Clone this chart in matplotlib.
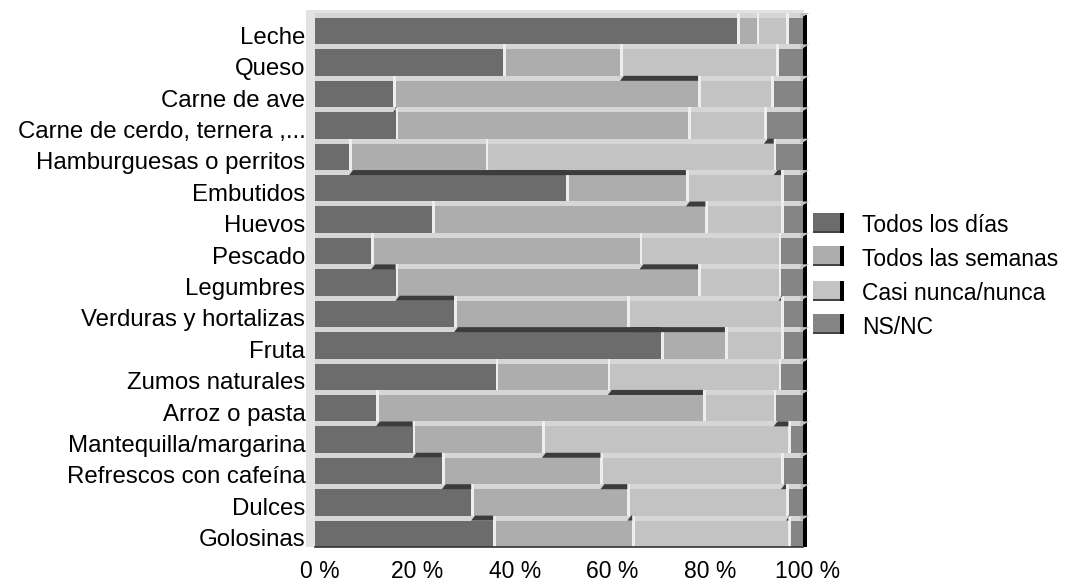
import numpy as np
import matplotlib
matplotlib.use("Agg")
import matplotlib.pyplot as plt
from matplotlib.patches import Polygon, Rectangle
from matplotlib.transforms import ScaledTranslation

plt.rcParams['font.family'] = ['Liberation Sans', 'DejaVu Sans']

categories = ["Leche", "Queso", "Carne de ave", "Carne de cerdo, ternera ,...",
              "Hamburguesas o perritos", "Embutidos", "Huevos", "Pescado",
              "Legumbres", "Verduras y hortalizas", "Fruta", "Zumos naturales",
              "Arroz o pasta", "Mantequilla/margarina", "Refrescos con cafeína",
              "Dulces", "Golosinas"]
series_names = ["Todos los días", "Todos las semanas", "Casi nunca/nunca", "NS/NC"]
todos_dias = [86.5, 38.5, 16.0, 16.5, 7.0, 51.5, 24.0, 11.5, 16.5, 28.5, 71.0, 37.0, 12.5, 20.0, 26.0, 32.0, 36.5]
todos_semanas = [4.0, 24.0, 62.5, 60.0, 28.0, 24.5, 56.0, 55.0, 62.0, 35.5, 13.0, 23.0, 67.0, 26.5, 32.5, 32.0, 28.5]
casi_nunca = [6.0, 32.0, 15.0, 15.5, 59.0, 19.5, 15.5, 28.5, 16.5, 31.5, 11.5, 35.0, 14.5, 50.5, 37.0, 32.5, 32.0]
ns_nc = [3.5, 5.5, 6.5, 8.0, 6.0, 4.5, 4.5, 5.0, 5.0, 4.5, 4.5, 5.0, 6.0, 3.0, 4.5, 3.5, 3.0]
x_ticks = [0, 20, 40, 60, 80, 100]
x_tick_labels = ["0 %", "20 %", "40 %", "60 %", "80 %", "100 %"]

face_colors = ["#6c6c6c", "#adadad", "#c3c3c3", "#858585"]
top_color = "#d6d6d6"
edge_light = "#eeeeee"
shadow_color = "#3c3c3c"

W, H = 1073, 585
fig = plt.figure(figsize=(W / 100, H / 100), dpi=100)
ax = fig.add_axes([315 / W, (H - 547) / H, 488 / W, 534 / H])

n = len(categories)
series = np.array([todos_dias, todos_semanas, casi_nunca, ns_nc])
cum = np.cumsum(series, axis=0)
lefts = cum - series
FACE = 0.84
base = np.array([n - 1 - i for i in range(n)], dtype=float)

# back wall
ax.add_patch(Rectangle((-1.8, 0), 1.8, n + 0.05, color="#e2e2e2", lw=0, clip_on=False, zorder=0))
ax.add_patch(Rectangle((-1.8, n - 0.02), 102, 0.1, color="#e2e2e2", lw=0, clip_on=False, zorder=0))

# front faces
for s in range(4):
    ax.barh(base, series[s], left=lefts[s], height=FACE, align='edge',
            color=face_colors[s], lw=0, zorder=2)

# top faces of each row
ax.barh(base + FACE, cum[-1], left=0, height=1 - FACE, align='edge',
        color=top_color, lw=0, zorder=2)

# right side band
ax.add_patch(Rectangle((100, 0), 0.9, n - 0.05, color="black", lw=0, clip_on=False, zorder=3))
for i in range(n):
    y0 = base[i] + FACE
    ax.add_patch(Polygon([(99.5, y0), (101.3, y0 + (1 - FACE)), (99.5, y0 + (1 - FACE))],
                         closed=True, color="#bdbdbd", lw=0, clip_on=False, zorder=4))

# light left edges of segments
for i in range(n):
    for s in range(1, 4):
        x = lefts[s][i]
        ax.add_patch(Rectangle((x, base[i]), 0.55, 1.0, color=edge_light, lw=0, zorder=3))

# shadows on top faces where the lower row's boundary lies further right
for i in range(n - 1):
    lo = i + 1
    y_b = base[lo] + FACE
    y_t = base[lo] + 1.0
    for k in range(3):
        a = cum[k][i]
        b = cum[k][lo]
        if b > a + 0.3:
            ax.add_patch(Polygon([(a, y_b), (a + 0.8, y_t), (b, y_t), (b, y_b)],
                                 closed=True, color=shadow_color, lw=0, zorder=3))

# bottom edge
ax.plot([0, 100], [0, 0], color="#333333", lw=1.2, zorder=4, clip_on=False)

ax.set_xlim(0, 100)
ax.set_ylim(0, n)
for sp in ax.spines.values():
    sp.set_visible(False)

ax.set_yticks(base + FACE / 2)
ax.set_yticklabels(categories, fontsize=17.3)
ax.tick_params(axis='y', length=0, pad=7)
for lbl in ax.get_yticklabels():
    lbl.set_transform(lbl.get_transform() + ScaledTranslation(0, -4 / 100, fig.dpi_scale_trans))

ax.set_xticks(x_ticks)
ax.set_xticklabels(x_tick_labels, fontsize=16.5)
ax.tick_params(axis='x', length=0, pad=9)
for lbl in ax.get_xticklabels():
    lbl.set_transform(lbl.get_transform() + ScaledTranslation(4.5 / 100, 0, fig.dpi_scale_trans))

# legend with boxed swatches
lax = fig.add_axes([0, 0, 1, 1], facecolor="none")
lax.set_xlim(0, W)
lax.set_ylim(H, 0)
lax.axis("off")
centers = [223, 256, 291, 324]
for name, col, yc in zip(series_names, face_colors, centers):
    lax.add_patch(Rectangle((813, yc - 10), 27, 20, color=col, lw=0))
    lax.add_patch(Rectangle((813, yc + 8), 27, 2, color="#444444", lw=0))
    lax.add_patch(Rectangle((840, yc - 10), 3.5, 20, color="black", lw=0))
    lax.text(862, yc + 3, name, fontsize=16.5, va='center', ha='left')

fig.savefig("out.png", dpi=100)
